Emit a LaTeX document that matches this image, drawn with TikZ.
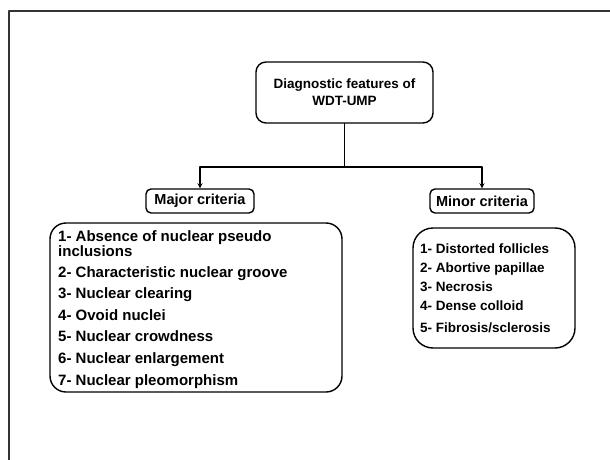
\documentclass[tikz,border=0pt]{standalone}
\usepackage{fontspec}
\setmainfont{Liberation Sans}
\usetikzlibrary{positioning}
\begin{document}
\begin{tikzpicture}[>=stealth,line join=round,line cap=round,x=1pt,y=-1pt,
	box/.style={draw,line width=1.4pt,rounded corners=#1,inner sep=0pt},
	box/.default=6pt,
	head/.style={box=5pt,minimum width=#1,minimum height=24pt,
		font=\fontsize{14.5}{17}\selectfont\bfseries},
	item/.style={anchor=base west,inner sep=0pt,font=\fontsize{#1}{18}\selectfont\bfseries},
	item/.default=15]
	\useasboundingbox (0,0) rectangle (610,460);
	\draw[line width=1.3pt,black!80] (9,470) -- (9,11) -- (620,11);
	% title and the two criteria
	\node[box=10pt,minimum width=177pt,minimum height=61pt,align=center,
		font=\fontsize{13.5}{17}\selectfont\bfseries] (title) at (344.5,92.5)
		{Diagnostic features of\\WDT-UMP};
	\node[head=108pt] (major) at (200,201) {Major criteria};
	\node[head=104pt] (minor) at (482,201) {Minor criteria};
	\coordinate (split) at (title.south |- 0,167);
	\draw[line width=1.2pt] (title.south) -- (split);
	\draw[line width=1.2pt,->] (split) -| (major);
	\draw[line width=1.2pt,->] (split) -| (minor);
	% list boxes
	\node[box=16pt,minimum width=292pt,minimum height=169pt] (majlist) at (196,307.5) {};
	\node[box=20pt,minimum width=162pt,minimum height=120pt] (minlist) at (494,288) {};
	\foreach \y/\t [count=\i] in {241.5/{1- Absence of nuclear pseudo},256/inclusions,
		277.5/{2- Characteristic nuclear groove},298.5/{3- Nuclear clearing},
		320.5/{4- Ovoid nuclei},341.5/{5- Nuclear crowdness},
		363.5/{6- Nuclear enlargement},385.5/{7- Nuclear pleomorphism}}
	\node[item] (maj\i) at (58,\y) {\t};
	\foreach \y/\t [count=\i] in {253/{1- Distorted follicles},272/{2- Abortive papillae},
		291/{3- Necrosis},310/{4- Dense colloid},332/{5- Fibrosis/sclerosis}}
	\node[item=13.5] (min\i) at (420,\y) {\t};
\end{tikzpicture}
\end{document}
